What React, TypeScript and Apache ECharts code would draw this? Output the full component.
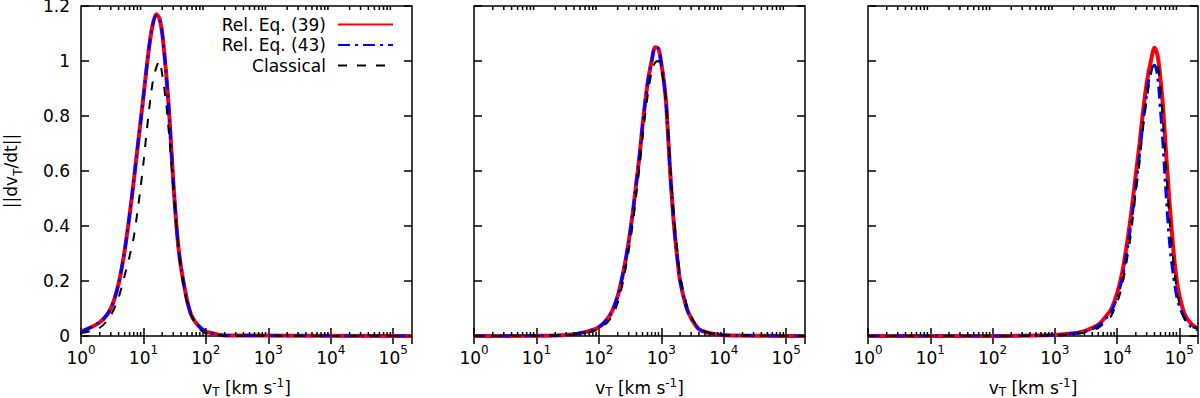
import React, { useEffect, useRef } from "react";
import * as echarts from "echarts";

// ---------- data ----------
const SERIES_NAMES = ["Rel. Eq. (39)", "Rel. Eq. (43)", "Classical"];

// Panel 1
const P1_V = [1, 2, 3, 4, 5, 6, 7, 8, 9, 10, 12, 14, 16, 18, 20, 23, 26, 30, 35, 40, 50, 60, 80, 100, 150, 200, 200000];
const P1_REL39 = [0.016, 0.05, 0.1, 0.19, 0.31, 0.44, 0.565, 0.68, 0.78, 0.87, 1.03, 1.13, 1.17, 1.155, 1.1, 0.96, 0.8, 0.565, 0.36, 0.25, 0.13, 0.07, 0.032, 0.017, 0.006, 0.002, 0];
const P1_REL43 = [0.016, 0.05, 0.1, 0.19, 0.31, 0.44, 0.565, 0.68, 0.78, 0.87, 1.03, 1.13, 1.165, 1.155, 1.1, 0.96, 0.8, 0.565, 0.36, 0.25, 0.13, 0.07, 0.032, 0.017, 0.006, 0.002, 0];
const P1_CLASS = [0.01, 0.03, 0.075, 0.14, 0.22, 0.29, 0.36, 0.45, 0.54, 0.63, 0.8, 0.92, 0.975, 1.0, 0.95, 0.85, 0.72, 0.54, 0.36, 0.24, 0.12, 0.07, 0.025, 0.01, 0.003, 0.001, 0];

// Panel 2
const P2_V = [1, 10, 30, 60, 100, 150, 200, 250, 300, 350, 400, 450, 500, 600, 700, 800, 900, 1000, 1100, 1200, 1400, 1600, 1800, 2000, 2500, 3000, 4000, 6000, 10000, 200000];
const P2_REL39 = [0, 0.001, 0.004, 0.014, 0.032, 0.075, 0.145, 0.24, 0.343, 0.45, 0.562, 0.66, 0.765, 0.915, 1.0, 1.05, 1.045, 0.99, 0.925, 0.84, 0.58, 0.4, 0.285, 0.2, 0.107, 0.065, 0.025, 0.01, 0.003, 0];
const P2_REL43 = [0, 0.001, 0.004, 0.014, 0.032, 0.075, 0.145, 0.24, 0.343, 0.45, 0.562, 0.66, 0.765, 0.915, 1.0, 1.05, 1.045, 0.99, 0.925, 0.84, 0.58, 0.4, 0.285, 0.2, 0.107, 0.065, 0.025, 0.01, 0.003, 0];
const P2_CLASS = [0, 0.001, 0.003, 0.01, 0.025, 0.06, 0.12, 0.21, 0.31, 0.41, 0.52, 0.62, 0.72, 0.87, 0.96, 0.995, 1.0, 0.965, 0.92, 0.845, 0.61, 0.43, 0.31, 0.22, 0.12, 0.072, 0.028, 0.011, 0.003, 0];

// Panel 3
const P3_V = [1, 100, 1000, 2000, 3000, 5000, 7000, 8000, 10000, 12000, 14000, 16000, 18000, 20000, 23000, 26000, 30000, 35000, 40000, 45000, 50000, 55000, 60000, 70000, 80000, 90000, 100000, 120000, 150000, 200000];
const P3_REL39 = [0, 0, 0.004, 0.01, 0.018, 0.041, 0.078, 0.095, 0.154, 0.226, 0.315, 0.405, 0.497, 0.585, 0.7, 0.81, 0.92, 1.0, 1.048, 1.018, 0.933, 0.83, 0.7, 0.48, 0.32, 0.21, 0.15, 0.083, 0.048, 0.026];
const P3_REL43 = [0, 0, 0.003, 0.009, 0.016, 0.037, 0.07, 0.087, 0.14, 0.205, 0.29, 0.375, 0.46, 0.545, 0.66, 0.77, 0.88, 0.97, 0.985, 0.94, 0.82, 0.69, 0.55, 0.337, 0.224, 0.15, 0.11, 0.068, 0.037, 0.022];
const P3_CLASS = [0, 0, 0.002, 0.007, 0.013, 0.03, 0.058, 0.072, 0.12, 0.18, 0.26, 0.34, 0.43, 0.52, 0.63, 0.75, 0.86, 0.95, 0.995, 0.985, 0.9, 0.78, 0.65, 0.42, 0.28, 0.18, 0.12, 0.065, 0.035, 0.03];

const PANELS = [
  { v: P1_V, rel39: P1_REL39, rel43: P1_REL43, cls: P1_CLASS },
  { v: P2_V, rel39: P2_REL39, rel43: P2_REL43, cls: P2_CLASS },
  { v: P3_V, rel39: P3_REL39, rel43: P3_REL43, cls: P3_CLASS },
];

const X_MIN = 1;
const X_MAX = 200000;
const Y_MIN = 0;
const Y_MAX = 1.2;
const Y_STEP = 0.2;
const DECADES = [1, 10, 100, 1000, 10000, 100000];
const MINOR_MULTS = [2, 3, 4, 5, 6, 7, 8, 9];

// ---------- layout / style ----------
const FONT = "DejaVu Sans";
const GRID_LEFTS = [81, 474, 868];
const GRID_WIDTHS = [331, 331, 330];
const GRID_TOP = 6;
const GRID_HEIGHT = 330;

const RED = "#ff0000";
const BLUE = "#0000ff";
const BLACK = "#000000";

function pair(xs: number[], ys: number[]) {
  return xs.map((x, i) => [x, ys[i]]);
}

function xLabel(value: number) {
  const e = Math.log10(value);
  const r = Math.round(e);
  if (Math.abs(e - r) > 1e-6) return "";
  return `{b|10}{s|${r}}`;
}

export default function App() {
  const ref = useRef<HTMLDivElement>(null);

  useEffect(() => {
    if (!ref.current) return;
    const chart = echarts.init(ref.current, undefined, { renderer: "svg" });

    const minorTicks: number[] = [];
    DECADES.forEach((d) => MINOR_MULTS.forEach((m) => {
      const v = d * m;
      if (v < X_MAX) minorTicks.push(v);
    }));

    const tickStyle = { color: BLACK, width: 1.5 };
    const grids: any[] = [];
    const xAxes: any[] = [];
    const yAxes: any[] = [];
    const series: any[] = [];

    PANELS.forEach((p, i) => {
      grids.push({
        left: GRID_LEFTS[i],
        top: GRID_TOP,
        width: GRID_WIDTHS[i],
        height: GRID_HEIGHT,
        show: true,
        borderColor: BLACK,
        borderWidth: 1.5,
        backgroundColor: "transparent",
        containLabel: false,
        outerBoundsMode: "none",
      });
      // bottom x
      xAxes.push({
        type: "log",
        logBase: 10,
        gridIndex: i,
        min: X_MIN,
        max: X_MAX,
        position: "bottom",
        axisLine: { show: false },
        axisTick: { inside: true, length: 8, lineStyle: tickStyle },
        splitLine: { show: false },
        axisLabel: {
          formatter: xLabel,
          margin: 8,
          showMaxLabel: false,
          rich: {
            b: { fontSize: 17, fontFamily: FONT, color: BLACK, lineHeight: 22, verticalAlign: "bottom" },
            s: { fontSize: 12, fontFamily: FONT, color: BLACK, lineHeight: 22, verticalAlign: "top" },
          },
        },
        name: "{n|v}{sub|T}{n| [km s}{sup|-1}{n|]}",
        nameLocation: "middle",
        nameGap: 41,
        nameTextStyle: {
          rich: {
            n: { fontSize: 17, fontFamily: FONT, color: BLACK, lineHeight: 21, verticalAlign: "middle" },
            sub: { fontSize: 12, fontFamily: FONT, color: BLACK, lineHeight: 21, verticalAlign: "bottom" },
            sup: { fontSize: 12, fontFamily: FONT, color: BLACK, lineHeight: 21, verticalAlign: "top" },
          },
        },
      });
      // top x (mirror)
      xAxes.push({
        type: "log",
        logBase: 10,
        gridIndex: i,
        min: X_MIN,
        max: X_MAX,
        position: "top",
        axisLine: { show: false },
        axisTick: { inside: true, length: 8, lineStyle: tickStyle },
        splitLine: { show: false },
        axisLabel: { show: false },
      });
      // left y
      yAxes.push({
        type: "value",
        gridIndex: i,
        min: Y_MIN,
        max: Y_MAX,
        interval: Y_STEP,
        position: "left",
        axisLine: { show: false },
        axisTick: { inside: true, length: 8, lineStyle: tickStyle },
        splitLine: { show: false },
        axisLabel: { show: i === 0, fontSize: 17, lineHeight: 12, fontFamily: FONT, color: BLACK, margin: 11 },
        name: i === 0 ? "{n|||dv}{sub|T}{n|/dt||}" : "",
        nameLocation: "middle",
        nameGap: 57,
        nameTextStyle: {
          rich: {
            n: { fontSize: 17, fontFamily: FONT, color: BLACK, lineHeight: 26, verticalAlign: "middle" },
            sub: { fontSize: 12, fontFamily: FONT, color: BLACK, lineHeight: 26, verticalAlign: "bottom" },
          },
        },
      });
      // right y (mirror)
      yAxes.push({
        type: "value",
        gridIndex: i,
        min: Y_MIN,
        max: Y_MAX,
        interval: Y_STEP,
        position: "right",
        axisLine: { show: false },
        axisTick: { inside: true, length: 8, lineStyle: tickStyle },
        splitLine: { show: false },
        axisLabel: { show: false },
      });

      const common = {
        type: "line",
        xAxisIndex: 2 * i,
        yAxisIndex: 2 * i,
        symbol: "none",
        showSymbol: false,
        smooth: 0.3,
        clip: true,
      };
      series.push({
        ...common,
        name: SERIES_NAMES[0],
        data: pair(p.v, p.rel39),
        lineStyle: { color: RED, width: 4, type: "solid" },
        itemStyle: { color: RED },
        z: 2,
      });
      series.push({
        ...common,
        name: SERIES_NAMES[1],
        data: pair(p.v, p.rel43),
        lineStyle: { color: BLUE, width: 3, type: [12, 5, 3, 5] },
        itemStyle: { color: BLUE },
        z: 3,
      });
      series.push({
        ...common,
        name: SERIES_NAMES[2],
        data: pair(p.v, p.cls),
        lineStyle: { color: BLACK, width: 2, type: [9, 10] },
        itemStyle: { color: BLACK },
        z: 4,
      });
      // minor ticks (bottom and top) through the axis scale
      series.push({
        type: "custom",
        name: "minor" + i,
        xAxisIndex: 2 * i,
        yAxisIndex: 2 * i,
        silent: true,
        z: 5,
        data: minorTicks.map((v) => [v, 0]),
        renderItem: (params: any, api: any) => {
          const v = api.value(0);
          const b = api.coord([v, Y_MIN]);
          const t = api.coord([v, Y_MAX]);
          return {
            type: "group",
            children: [
              { type: "line", shape: { x1: b[0], y1: b[1], x2: b[0], y2: b[1] - 4 }, style: { stroke: BLACK, lineWidth: 1.5 } },
              { type: "line", shape: { x1: t[0], y1: t[1], x2: t[0], y2: t[1] + 4 }, style: { stroke: BLACK, lineWidth: 1.5 } },
            ],
          };
        },
      });
    });

    chart.setOption({
      animation: false,
      backgroundColor: "#ffffff",
      textStyle: { fontFamily: FONT },
      legend: {
        data: SERIES_NAMES,
        orient: "vertical",
        align: "right",
        right: 806,
        top: 16,
        padding: 0,
        itemWidth: 55,
        itemHeight: 14,
        itemGap: 3.5,
        itemStyle: { opacity: 0, borderWidth: 0 },
        textStyle: { fontSize: 17, fontFamily: FONT, color: BLACK, lineHeight: 17, padding: [0, 7, 0, 0] },
        selectedMode: false,
      },
      grid: grids,
      xAxis: xAxes,
      yAxis: yAxes,
      series,
    });

    return () => chart.dispose();
  }, []);

  return (
    <div
      ref={ref}
      style={{ position: "absolute", left: 0, top: 0, width: 1200, height: 398 }}
    />
  );
}
